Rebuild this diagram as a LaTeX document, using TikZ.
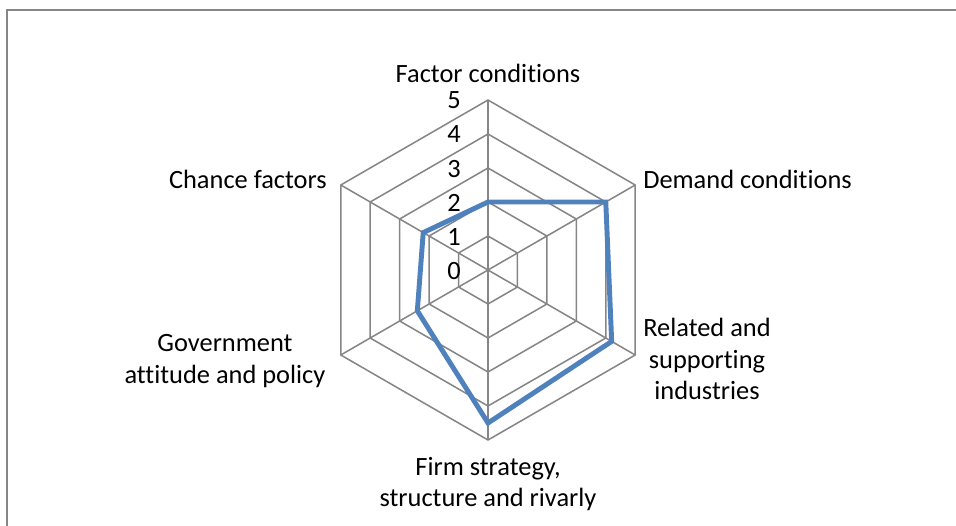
\documentclass[tikz,border=0pt]{standalone}
\usepackage{fontspec}
\setmainfont{Carlito}[Ligatures=NoCommon]
\usetikzlibrary{positioning, calc}

\definecolor{gridgray}{RGB}{134,134,134}
\definecolor{seriesblue}{RGB}{79,129,189}

\begin{document}
\begin{tikzpicture}
    [x=0.75pt, y=0.75pt,
    chartframe/.style={draw=gridgray, line width=1.5pt},
    gridline/.style={draw=gridgray, line width=1.15pt},
    seriesline/.style={draw=seriesblue, line width=3.7pt, line join=miter},
    axislabel/.style={font=\fontsize{19.8}{23.6}\selectfont, align=center, inner sep=0pt},
    ticklabel/.style={font=\fontsize{19.8}{23.6}\selectfont, inner sep=0pt, anchor=base east}]

    \useasboundingbox (-488,-255) rectangle (468,270);

    % chart area border
    \draw[chartframe] (-480.5,-262) -- (-480.5,259.5) -- (475,259.5);

    % axes
    \coordinate (O) at (0,0);
    \foreach \a/\n in {90/fc, 30/dc, -30/rs, -90/fs, -150/ga, 150/cf}
        \coordinate (\n) at (\a:170);

    % rings and spokes
    \foreach \r in {1,...,5}
        \draw[gridline] (90:\r*34) \foreach \a in {30,-30,-90,-150,150} { -- (\a:\r*34) } -- cycle;
    \foreach \n in {fc, dc, rs, fs, ga, cf}
        \draw[gridline] (O) -- (\n);

    % scale
    \foreach \i in {0,...,5}
        \node[ticklabel] (tick\i) at (-27, \i*34-9) {\i};

    % data
    \coordinate (vfc) at (90:2*34);
    \coordinate (vdc) at (30:4*34);
    \coordinate (vrs) at (-30:4.2*34);
    \coordinate (vfs) at (-90:4.5*34);
    \coordinate (vga) at (-150:2.4*34);
    \coordinate (vcf) at (150:2.2*34);
    \draw[seriesline] (vfc) -- (vdc) -- (vrs) -- (vfs) -- (vga) -- (vcf) -- cycle;

    % category labels
    \node[axislabel, anchor=base]       (factor)  at (0,187)     {Factor conditions};
    \node[axislabel, anchor=base west]  (demand)  at (155,81)    {Demand conditions};
    \node[axislabel, anchor=north]      (related) at (219,-48)   {Related and\\ supporting\\ industries};
    \node[axislabel, anchor=north]      (firm)    at (0,-187)    {Firm strategy,\\ structure and rivarly};
    \node[axislabel, anchor=north]      (govt)    at (-263,-64.5) {Government\\ attitude and policy};
    \node[axislabel, anchor=base east]  (chance)  at (-161,81)   {Chance factors};
\end{tikzpicture}
\end{document}
